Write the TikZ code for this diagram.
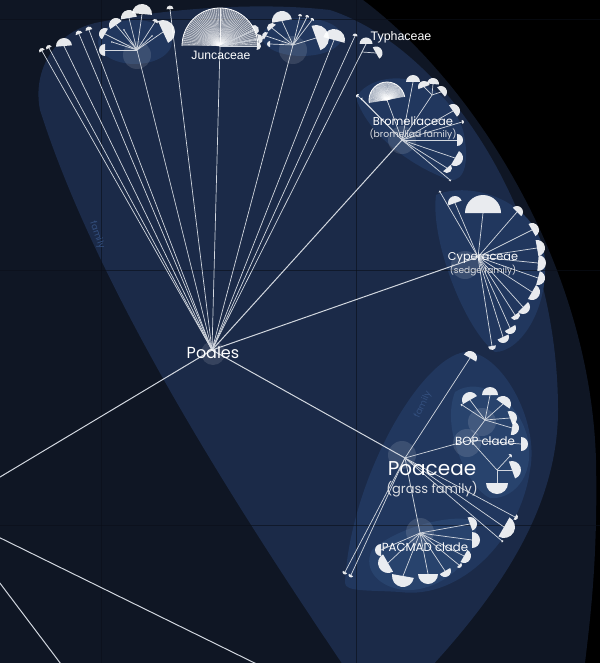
\documentclass[tikz,border=0pt]{standalone}
\usepackage{fontspec}
\setmainfont{Poppins}
\newfontfamily\arialfont{Liberation Sans}
\definecolor{navy}{HTML}{0F1624}
\definecolor{lensblue}{HTML}{1B2A48}
\definecolor{famblue}{HTML}{21375E}
\definecolor{cladeblue}{HTML}{28436D}
\definecolor{branchgrey}{HTML}{D2D7DF}
\definecolor{famword}{HTML}{34507F}
\definecolor{gridcol}{HTML}{0A0F19}

% half disc at the end of a twig: point, direction, radius
\newcommand\leafcap[3]{\fill[capfill] (#1) ++(#2-90:#3) arc[start angle=#2-90,delta angle=180,radius=#3] -- cycle;}
% ribbed fan: point, direction, radius
\newcommand\ribfan[3]{%
  \fill[white,fill opacity=0.4] (#1) ++(#2-90:#3) arc[start angle=#2-90,delta angle=180,radius=#3] -- cycle;
  \foreach \k in {3,6,...,177} \draw[white,line width=0.35pt,opacity=0.85] (#1) -- ++(#2-90+\k:#3);
  \draw[white,line width=0.8pt] (#1) ++(#2-90:#3) arc[start angle=#2-90,delta angle=180,radius=#3];}
% twigs from a parent to capped leaves
\newcommand\fanout[2]{%
  \foreach \p/\a/\r [count=\i] in {#2} {
    \coordinate (#1-\i) at (\p);
    \draw[twig] (#1) -- (#1-\i);
    \leafcap{#1-\i}{\a}{\r}
  }}

\begin{document}
\begin{tikzpicture}[x=1pt,y=-1pt,
    branch/.style={draw=branchgrey,line width=1pt},
    twig/.style={draw=branchgrey,line width=0.7pt},
    capfill/.style={fill=white,fill opacity=0.9},
    nodespot/.style={circle,fill=white,fill opacity=0.12,minimum size=#1,inner sep=0pt},
    nodespot/.default=28pt,
    taxon/.style={text=white,inner sep=0pt,font=\fontsize{11.5}{11.5}\selectfont},
    vernacular/.style={text=white!85!lensblue,inner sep=0pt,font=\fontsize{9}{9}\selectfont},
    famtext/.style={text=famword,inner sep=0pt,font=\fontsize{9}{9}\selectfont}]
\useasboundingbox (0,0) rectangle (600,663);
\clip (0,0) rectangle (600,663);

% background
\fill[black] (0,0) rectangle (600,663);
\fill[navy] (0,0) -- (363,0) .. controls (470,80) and (590,260) .. (596,460)
  .. controls (598,560) and (590,620) .. (585,663) -- (0,663) -- cycle;
\fill[lensblue] (380,720) .. controls (300,600) and (110,330) .. (40,110)
  .. controls (32,70) and (55,30) .. (100,22) .. controls (170,8) and (260,2) .. (330,10)
  .. controls (450,50) and (558,220) .. (558,410) .. controls (558,530) and (470,630) .. (380,720) -- cycle;

% family regions
\fill[famblue] (135,42) ellipse[x radius=37pt,y radius=22pt];
\fill[famblue] (302,37) ellipse[x radius=40pt,y radius=19pt];
\fill[famblue] (356,98) .. controls (370,70) and (440,65) .. (463,130)
  .. controls (470,160) and (465,182) .. (450,180) .. controls (420,170) and (370,140) .. cycle;
\fill[famblue] (436,195) .. controls (470,180) and (540,200) .. (545,260)
  .. controls (548,310) and (520,352) .. (495,352) .. controls (465,330) and (430,240) .. cycle;
\fill[famblue] (345,583) .. controls (350,480) and (420,358) .. (465,352)
  .. controls (500,350) and (540,420) .. (530,470) .. controls (520,540) and (460,600) .. (400,592)
  .. controls (370,590) and (345,592) .. cycle;
\fill[cladeblue] (455,392) .. controls (480,375) and (520,400) .. (528,440)
  .. controls (535,480) and (510,500) .. (490,498) .. controls (470,490) and (440,430) .. cycle;
\fill[cladeblue] (372,550) .. controls (400,525) and (460,512) .. (476,522)
  .. controls (480,560) and (440,592) .. (405,590) .. controls (380,588) and (362,570) .. cycle;

% grid
\foreach \gx in {101,356} \draw[gridcol,line width=0.6pt,opacity=0.6] (\gx,0) -- (\gx,663);
\foreach \gy in {19,270,525} \draw[gridcol,line width=0.6pt,opacity=0.6] (0,\gy) -- (600,\gy);

\node[famtext,rotate=-70] (famA) at (97,235) {family};
\node[famtext,rotate=65] (famB) at (423,405) {family};

% node spots
\node[nodespot=24pt] (spotP) at (213,353) {};
\node[nodespot] (spotB) at (402,140) {};
\node[nodespot] (spotC) at (465,265) {};
\node[nodespot] (spotPoa) at (402,455) {};
\node[nodespot] (spotBop) at (467,443) {};
\node[nodespot] (spotBop1) at (482,422) {};
\node[nodespot] (spotPac) at (420,532) {};
\node[nodespot] (spotC1) at (137,55) {};
\node[nodespot] (spotC2) at (293,50) {};

% main nodes
\coordinate (poales) at (212,350);
\coordinate (c1) at (137,50);
\coordinate (junc) at (220,46);
\coordinate (c2) at (293,45);
\coordinate (typh) at (362,52);
\coordinate (brom) at (402,140);
\coordinate (cyp) at (478,257);
\coordinate (poa) at (405,458);
\coordinate (bop) at (470,440);
\coordinate (bop1) at (485,420);
\coordinate (bop2) at (497,470);
\coordinate (pac) at (420,533);

% branches coming in from the left
\coordinate (in1) at (-20,489);
\coordinate (w1a) at (-20,528);
\coordinate (w1b) at (275,673);
\coordinate (w2a) at (-10,570);
\coordinate (w2b) at (70,676);
\draw[branch] (in1) -- (poales);
\draw[branch] (w1a) -- (w1b);
\draw[branch] (w2a) -- (w2b);

% Poales
\foreach \t in {c1,junc,c2,typh} \draw[twig] (poales) -- (\t);
\foreach \t in {brom,cyp,poa} \draw[branch] (poales) -- (\t);
\fanout{poales}{{42,51}/-120/3, {49,48}/-120/3, {64,46}/-95/8, {79,34}/-110/3.5,
  {89,30}/-105/3.5, {170,9}/-95/3.5, {334,40}/-75/11, {355,36}/-80/2.5}

% top clusters
\fanout{c1}{{105,50}/180/6, {105,34}/-150/6, {116,25}/-125/7, {129,18}/-100/8,
  {142,14}/-85/10, {163,32}/-25/12, {155,22}/-60/3, {112,42}/-160/1, {124,30}/-120/1, {152,36}/-40/1}
\ribfan{junc}{-90}{38}
\fanout{junc}{{254,30}/-30/5, {258,39}/-10/5, {257,46}/5/4}
\fanout{c2}{{282,21}/-100/10, {272,28}/-130/5, {266,36}/-150/4, {316,38}/-20/13,
  {300,16}/-80/2, {307,17}/-70/2, {312,20}/-60/2, {270,44}/180/3}
\fanout{typh}{{366,44}/-90/6.5, {376,53}/-30/6.5}

% Bromeliaceae
\coordinate (bromfan) at (387,100);
\coordinate (brom3) at (432,95);
\draw[twig] (brom) -- (bromfan);
\draw[twig] (brom) -- (brom3);
\ribfan{bromfan}{-100}{18}
\fanout{brom3}{{424,87}/-110/6, {433,84}/-85/6, {441,92}/-40/6}
\fanout{brom}{{413,82}/-90/7, {453,111}/-35/7, {462,122}/-10/2, {457,140}/0/6,
  {455,158}/30/8, {447,168}/50/5, {358,96}/-150/2, {362,99}/-150/1.5, {450,180}/60/1.5}

% Cyperaceae
\fanout{cyp}{{440,192}/-120/1.5, {455,203}/-110/7, {483,213}/-90/18, {517,212}/-45/6,
  {532,230}/-30/7, {537,248}/-10/8, {538,263}/5/8, {538,278}/15/7, {532,292}/30/8,
  {523,307}/45/7, {515,315}/55/5, {510,328}/60/6, {503,337}/65/6, {492,346}/80/4}

% Poaceae
\draw[twig] (poa) -- (bop);
\draw[twig] (poa) -- (pac);
\draw[twig] (bop) -- (bop1);
\draw[twig] (bop) -- (bop2);
\fanout{poa}{{470,358}/-60/7, {345,572}/120/2.5, {351,575}/120/2.5, {515,517}/30/3,
  {504,527}/30/11, {502,541}/40/1.5}
\fanout{bop}{{521,444}/0/7}
\fanout{bop1}{{470,400}/-120/8, {490,395}/-90/8, {503,404}/-55/8, {510,418}/-20/7,
  {512,428}/10/7, {462,405}/-150/1.5}
\fanout{bop2}{{497,483}/90/11, {512,470}/-20/9, {510,456}/-40/2}
\fanout{pac}{{470,524}/-20/7, {472,540}/0/8, {464,556}/30/7, {459,565}/45/3, {445,571}/60/6,
  {428,574}/90/10, {403,576}/100/11, {388,563}/150/10, {381,550}/180/6}

% labels
\node[taxon,font=\fontsize{16}{16}\selectfont] (poaleslbl) at (213,353) {Poales};
\node[taxon,font=\arialfont\fontsize{12.2}{12.2}\selectfont] (junclbl) at (221,55) {Juncaceae};
\node[taxon,font=\arialfont\fontsize{12.4}{12.4}\selectfont] (typhlbl) at (401,37) {Typhaceae};
\node[taxon] (bromlbl) at (413,121) {Bromeliaceae};
\node[vernacular,font=\fontsize{9.2}{9.2}\selectfont] (bromvern) at (413,134) {(bromeliad family)};
\node[taxon,font=\fontsize{11.3}{11.3}\selectfont] (cyplbl) at (483,258) {Cyperaceae};
\node[vernacular] (cypvern) at (483,271) {(sedge family)};
\node[taxon,font=\fontsize{20}{20}\selectfont] (poalbl) at (432,469) {Poaceae};
\node[vernacular,font=\fontsize{13}{13}\selectfont] (poavern) at (432,489) {(grass family)};
\node[taxon,font=\fontsize{11.8}{11.8}\selectfont] (boplbl) at (485,441) {BOP clade};
\node[taxon,font=\fontsize{11.7}{11.7}\selectfont] (paclbl) at (425,547) {PACMAD clade};
\end{tikzpicture}
\end{document}
